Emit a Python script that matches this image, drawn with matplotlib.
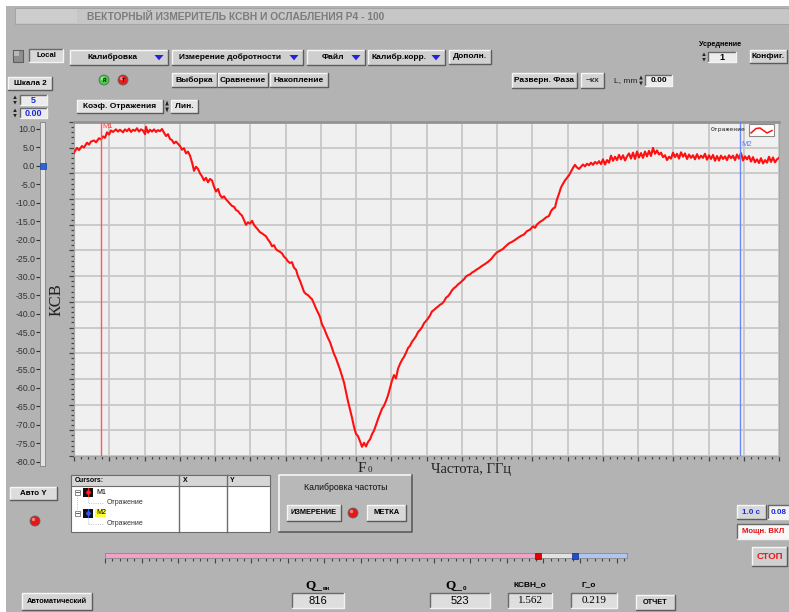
import numpy as np
import matplotlib
matplotlib.use("Agg")
import matplotlib.pyplot as plt
from matplotlib.patches import Rectangle, Circle, Polygon
from matplotlib.ticker import MultipleLocator, FixedLocator, NullFormatter, FormatStrFormatter

# ---------------- data ----------------
freq_idx = [
    0, 3, 5, 8, 10, 13, 15, 17, 20, 22,
    25, 27, 29, 31, 33, 35, 37, 39, 42, 44,
    46, 49, 51, 53, 55, 57, 59, 61, 63, 65,
    67, 69, 71, 72, 74, 76, 78, 80, 82, 84,
    86, 88, 90, 92, 94, 96, 98, 100, 102, 104,
    106, 108, 110, 112, 114, 116, 118, 120, 122, 124,
    126, 128, 130, 132, 134, 136, 138, 140, 142, 144,
    146, 148, 150, 152, 154, 156, 158, 160, 162, 164,
    166, 168, 170, 172, 174, 176, 178, 180, 182, 184,
    186, 188, 190, 192, 194, 196, 198, 200, 202, 204,
    206, 208, 210, 212, 214, 216, 218, 220, 222, 224,
    226, 228, 230, 232, 234, 236, 238, 240, 242, 244,
    246, 248, 250, 252, 254, 256, 258, 260, 262, 264,
    266, 268, 270, 272, 274, 276, 278, 280, 282, 284,
    286, 288, 290, 292, 294, 296, 298, 300, 302, 304,
    306, 308, 310, 312, 314, 316, 318, 320, 322, 324,
    326, 328, 330, 332, 334, 336, 338, 340, 342, 344,
    346, 348, 350, 352, 354, 356, 358, 360, 362, 364,
    366, 368, 370, 372, 374, 376, 378, 380, 382, 384,
    386, 388, 390, 392, 394, 396, 398, 400, 402, 405,
    408, 411, 414, 417, 420, 423, 426, 429, 432, 435,
    438, 441, 444, 447, 450, 453, 456, 459, 461, 463,
    466, 469, 472, 475, 477, 479, 481, 483, 485, 487,
    489, 491, 493, 495, 497, 499, 501, 503, 505, 507,
    509, 511, 513, 515, 517, 519, 521, 523, 525, 527,
    529, 531, 533, 535, 537, 539, 541, 543, 545, 547,
    549, 551, 553, 555, 557, 559, 561, 563, 565, 567,
    569, 571, 573, 575, 577, 579, 581, 583, 585, 587,
    589, 591, 593, 595, 597, 599, 601, 603, 605, 607,
    609, 611, 613, 615, 617, 619, 621, 623, 625, 627,
    629, 631, 633, 635, 637, 639, 641, 643, 645, 647,
    649, 651, 653, 655, 657, 659, 661, 663, 665, 667,
    669, 671, 673, 675, 677, 679, 681, 683, 685, 687,
    689, 691, 693, 695, 697, 699, 701, 703, 705,
]
ksv = [
    3.6, 4.9, 4.3, 5.4, 5.0, 6.3, 5.8, 6.6, 6.9, 6.4,
    7.5, 7.2, 8.0, 7.6, 9.1, 8.5, 9.6, 9.2, 9.9, 9.3,
    9.8, 9.1, 9.9, 9.4, 10.1, 9.2, 9.8, 9.5, 10.2, 9.3,
    9.9, 9.6, 8.6, 10.6, 9.0, 9.8, 9.3, 9.9, 9.2, 9.7,
    9.4, 10.0, 9.0, 8.1, 8.6, 7.3, 7.0, 6.1, 6.6, 6.0,
    5.4, 4.4, 4.8, 3.4, 3.9, 2.8, 1.0, -1.3, -0.2, -0.8,
    -2.0, -2.8, -3.9, -3.2, -4.4, -3.5, -3.9, -5.6, -6.9, -6.2,
    -7.8, -8.6, -8.2, -9.0, -9.6, -10.2, -10.8, -11.0, -11.9, -12.2,
    -12.9, -13.4, -14.6, -15.9, -15.2, -15.6, -14.8, -15.9, -16.6, -17.2,
    -17.9, -18.2, -18.6, -19.0, -19.9, -20.6, -21.7, -21.4, -22.5, -22.9,
    -23.2, -23.6, -24.5, -25.0, -25.8, -26.2, -26.0, -27.5, -28.0, -29.8,
    -31.0, -32.5, -34.0, -34.6, -34.9, -35.5, -36.0, -37.2, -38.5, -39.6,
    -40.8, -42.8, -43.8, -45.2, -46.5, -47.6, -49.2, -50.8, -52.0, -53.5,
    -55.0, -56.8, -58.5, -61.0, -63.6, -65.8, -68.0, -70.5, -72.4, -73.0,
    -74.4, -75.9, -74.8, -75.8, -74.6, -73.9, -72.5, -71.5, -70.0, -68.4,
    -67.0, -65.6, -64.8, -63.5, -62.0, -60.0, -58.0, -56.5, -57.4, -54.8,
    -53.5, -52.4, -51.6, -50.5, -49.2, -48.6, -47.5, -46.8, -46.0, -44.9,
    -44.3, -43.6, -42.5, -41.9, -41.2, -40.4, -39.3, -38.9, -38.4, -38.0,
    -37.5, -37.2, -36.6, -35.6, -35.2, -34.5, -33.6, -33.0, -32.6, -32.0,
    -31.6, -31.1, -30.6, -29.9, -29.5, -29.3, -28.8, -28.5, -28.1, -27.6,
    -27.0, -26.5, -25.9, -25.2, -24.2, -23.3, -22.9, -22.4, -21.6, -20.9,
    -20.5, -20.0, -19.4, -18.9, -18.5, -17.6, -17.2, -16.3, -16.7, -15.8,
    -15.1, -14.6, -13.9, -13.5, -12.2, -11.5, -11.2, -9.0, -7.5, -5.8,
    -4.8, -3.9, -3.2, -2.5, -1.5, -0.5, 0.3, -0.4, -0.8, -0.2,
    0.4, -0.1, 0.6, 0.2, 0.9, 0.3, 1.1, 0.6, 1.3, 0.5,
    1.8, 0.4, 1.6, 0.9, 2.8, 1.4, 2.5, 1.6, 3.0, 1.8,
    2.9, 1.5, 2.6, 3.4, 2.0, 3.6, 1.9, 3.9, 2.3, 3.5,
    2.2, 3.9, 2.6, 4.1, 2.7, 4.9, 3.3, 4.2, 3.1, 3.6,
    2.4, 2.9, 1.6, 2.5, 2.0, 3.6, 2.4, 3.3, 2.0, 3.7,
    2.5, 3.4, 1.9, 3.1, 2.2, 2.9, 1.8, 3.2, 2.0, 2.8,
    2.2, 3.3, 1.7, 2.9, 1.9, 3.0, 1.4, 2.7, 1.5, 2.8,
    1.9, 2.6, 1.6, 2.9, 2.1, 2.8, 1.6, 3.1, 2.0, 3.5,
    1.5, 2.6, 1.8, 2.7, 1.2, 2.4, 1.0, 1.8, 0.8, 2.1,
    0.7, 1.6, 0.9, 2.5, 1.1, 2.3, 1.0, 1.8, 2.2,
]
m1_idx = 27
m2_idx = 666
scale_ticks = [10, 5, 0, -5, -10, -15, -20, -25, -30, -35, -40,
               -45, -50, -55, -60, -65, -70, -75, -80]
scale_value = 0.0
freq_marker_red = 82.9
freq_marker_blue = 90.1
q_vn = "816"
q_0 = "523"
ksvn_0 = "1.562"
gamma_0 = "0.219"
legend_label = "Отражение"
title_text = "ВЕКТОРНЫЙ ИЗМЕРИТЕЛЬ КСВН И ОСЛАБЛЕНИЯ Р4 - 100"

# ---------------- layout helpers ----------------
W, H = 789, 612
BG = '#b3b3b3'
SANS = 'Liberation Sans'
SERIF = 'Liberation Serif'

fig = plt.figure(figsize=(W / 100, H / 100), dpi=100)
fig.patch.set_facecolor(BG)


def add_px_axes(x0, y0, x1, y1):
    return fig.add_axes([x0 / W, 1 - y1 / H, (x1 - x0) / W, (y1 - y0) / H])


ui = add_px_axes(0, 0, W, H)
ui.set_xlim(0, W)
ui.set_ylim(H, 0)
ui.axis('off')
ui.set_zorder(0)


def box(a, x0, y0, x1, y1, fc, ec='none', lw=0.8, z=1):
    a.add_patch(Rectangle((x0, y0), x1 - x0, y1 - y0, facecolor=fc,
                          edgecolor=ec, linewidth=lw, zorder=z))


def bevel(a, x0, y0, x1, y1, fc='#d4d4d4', up=True, lw=1.0, z=1):
    box(a, x0, y0, x1, y1, fc, z=z)
    hi, lo = ('#f6f6f6', '#5c5c5c') if up else ('#6a6a6a', '#f2f2f2')
    a.plot([x0, x0, x1], [y1, y0, y0], color=hi, lw=lw, zorder=z + 0.1)
    a.plot([x0, x1, x1], [y1, y1, y0], color=lo, lw=lw, zorder=z + 0.1)


def label(a, x, y, s, fs=6, color='black', ha='center', va='center',
          weight='bold', family=SANS, z=3, **kw):
    a.text(x, y, s, fontsize=fs, color=color, ha=ha, va=va,
           fontweight=weight, family=family, zorder=z, **kw)


def button(a, x0, y0, x1, y1, s, fs=6, color='black', fc='#d2d2d2'):
    bevel(a, x0, y0, x1, y1, fc=fc, up=True)
    label(a, (x0 + x1) / 2, (y0 + y1) / 2, s, fs=fs, color=color)


def numbox(a, x0, y0, x1, y1, s, fs=6, color='black', fc='#ececec',
           weight='bold', family=SANS):
    bevel(a, x0, y0, x1, y1, fc=fc, up=False)
    label(a, (x0 + x1) / 2, (y0 + y1) / 2 + 0.3, s, fs=fs, color=color,
          weight=weight, family=family)


def spinner(a, x, y0, y1):
    ym = (y0 + y1) / 2
    a.add_patch(Polygon([[x - 1.8, ym - 1], [x + 1.8, ym - 1], [x, y0 + 0.5]],
                        closed=True, fc='#222', ec='none', zorder=3))
    a.add_patch(Polygon([[x - 1.8, ym + 1], [x + 1.8, ym + 1], [x, y1 - 0.5]],
                        closed=True, fc='#222', ec='none', zorder=3))


def ring(a, x0, y0, x1, y1, s, tx):
    bevel(a, x0, y0, x1, y1, fc='#cfcfcf', up=True)
    label(a, tx, (y0 + y1) / 2, s, fs=6)
    xm = x1 - 9
    ym = (y0 + y1) / 2
    a.add_patch(Polygon([[xm - 4.5, ym - 2.5], [xm + 4.5, ym - 2.5], [xm, ym + 2.8]],
                        closed=True, fc='#2222dd', ec='none', zorder=3))


def led(a, x, y, r, fc, s=None):
    a.add_patch(Circle((x, y), r, fc=fc, ec='#666', lw=0.6, zorder=3))
    a.add_patch(Circle((x - r * 0.3, y - r * 0.3), r * 0.35, fc='white',
                       alpha=0.45, ec='none', zorder=3.1))
    if s:
        label(a, x, y, s, fs=3.5, color='black', z=4)


# ---------------- top bar ----------------
box(ui, 0, 0, W, 6, 'white', z=0.5)
box(ui, 0, 0, 6, H, 'white', z=0.5)
box(ui, 15, 8, W, 24, '#c6c6c6', ec='#a4a4a4')
box(ui, 16, 9, 77, 23, '#cdcdcd')
label(ui, 87, 16.5, title_text, fs=7.35, color='#7c7c7c', ha='left')

# ---------------- menu row ----------------
box(ui, 13, 50, 23, 62, '#8e8e8e', ec='#5e5e5e')
box(ui, 14, 51, 19, 56, '#b8b8b8')
bevel(ui, 29, 49, 63, 62, fc='#d8d8d8', up=False)
label(ui, 46, 55.5, "Local", fs=5.5)
ring(ui, 70, 50, 168, 65, "Калибровка", 113)
ring(ui, 172, 50, 303, 65, "Измерение добротности", 230)
ring(ui, 307, 50, 365, 65, "Файл", 333)
ring(ui, 368, 50, 445, 65, "Калибр.корр.", 399)
button(ui, 449, 50, 491, 64, "Дополн.", fs=6)

label(ui, 720, 44, "Усреднение", fs=5.2)
spinner(ui, 704, 52, 62)
numbox(ui, 708, 52, 736, 62, "1", fs=6.5)
button(ui, 750, 50, 787, 63, "Конфиг.", fs=6)

# second row
button(ui, 8, 77, 52, 90, "Шкала 2", fs=5.8, fc='#dcdcdc')
led(ui, 104, 80, 5, '#3fcf3f', "R")
led(ui, 123, 80, 5, '#e81e1e', "T")
button(ui, 172, 73, 217, 87, "Выборка", fs=6)
button(ui, 218, 73, 268, 87, "Сравнение", fs=6)
button(ui, 270, 73, 328, 87, "Накопление", fs=6)
button(ui, 512, 73, 577, 88, "Разверн. Фаза", fs=6)
button(ui, 581, 73, 604, 88, "~кх", fs=6, color='#333333')
label(ui, 626, 80.5, "L, mm", fs=6, weight='normal', color='#222')
spinner(ui, 641, 75, 86)
numbox(ui, 645, 75, 672, 86, "0.00", fs=6)

spinner(ui, 15, 95, 105)
numbox(ui, 20, 95, 47, 105, "5", fs=6.5, color='#1a2ad8')
spinner(ui, 15, 108, 118)
numbox(ui, 20, 108, 47, 118, "0.00", fs=6.5, color='#1a2ad8')

bevel(ui, 77, 100, 163, 113, fc='#e4e4e4', up=True)
label(ui, 120, 106.5, "Коэф. Отражения", fs=6)
spinner(ui, 167, 100, 113)
bevel(ui, 171, 100, 198, 113, fc='#e4e4e4', up=True)
label(ui, 184.5, 106.5, "Лин.", fs=6)

# ---------------- main plot ----------------
px_per_unit = 3.7
y_top = 10 + (129 - 122) / px_per_unit
y_bot = -80 - (456 - 462) / px_per_unit
ax = add_px_axes(74, 122, 779, 456)
ax.set_zorder(2)
ax.set_facecolor('#f0f0f0')
ax.set_xlim(0, 705)
ax.set_ylim(y_bot, y_top)
ax.xaxis.set_major_locator(MultipleLocator(705 / 20))
ax.xaxis.set_minor_locator(MultipleLocator(705 / 100))
ax.yaxis.set_major_locator(FixedLocator(np.linspace(y_bot, y_top, 14)))
ax.yaxis.set_minor_locator(FixedLocator(np.linspace(y_bot, y_top, 66)))
ax.xaxis.set_major_formatter(NullFormatter())
ax.yaxis.set_major_formatter(NullFormatter())
ax.grid(True, which='major', color='#c8c8c8', lw=1.3)
ax.set_axisbelow(True)
ax.tick_params(which='both', direction='out', color='#444444', width=0.9,
               top=False, right=False)
ax.tick_params(which='major', length=3.5)
ax.tick_params(which='minor', length=2.2)
for side in ['left', 'right', 'bottom']:
    ax.spines[side].set_color('#a6a6a6')
    ax.spines[side].set_linewidth(0.8)
ax.spines['top'].set_color('#939393')
ax.spines['top'].set_linewidth(2.0)

ax.plot(freq_idx, ksv, color='#ff1010', lw=1.5, zorder=3)
ax.axvline(m1_idx, color='#ff5a5a', lw=1.0, zorder=4)
ax.axvline(m2_idx, color='#6a86ff', lw=1.0, zorder=4)
ax.text(m1_idx + 1, y_top - 0.4, "M1", color='#ff3a3a', fontsize=5.5,
        family=SANS, va='top', ha='left', zorder=5)
ax.text(m2_idx + 1.5, 6.8, "M2", color='#5a7aff', fontsize=5.5,
        family=SANS, va='top', ha='left', zorder=5)

# overlay for legend
top = add_px_axes(0, 0, W, H)
top.set_xlim(0, W)
top.set_ylim(H, 0)
top.axis('off')
top.set_zorder(5)
top.patch.set_alpha(0)
label(top, 746, 130, legend_label, fs=4.6, weight='normal', ha='right',
      family='DejaVu Sans Mono', color='#222')
box(top, 749, 124, 774, 136, 'white', ec='#8a8a8a', lw=0.8)
top.plot([751, 756, 760, 767, 772], [133, 128.5, 128, 133, 130.5],
         color='#ff1010', lw=1.1, zorder=6)

# axis labels
label(ui, 57, 300, "КСВ", fs=12, weight='normal', family=SERIF, rotation=90,
      color='#222')
label(ui, 362, 468, "F", fs=11, weight='normal', family=SERIF, color='#222')
label(ui, 369.5, 470.5, "0", fs=6.5, weight='normal', family=SERIF, color='#222')
label(ui, 471, 469.5, "Частота, ГГц", fs=10.5, weight='normal', family=SERIF,
      color='#222')

# ---------------- vertical scale slider ----------------
sl = add_px_axes(40, 122, 45, 466)
sl.set_zorder(2)
sl.set_facecolor('#e2e2e2')
sl.set_xlim(0, 1)
sl.set_ylim(-80 - 4 / px_per_unit, 10 + 7 / px_per_unit)
sl.set_yticks(scale_ticks)
sl.yaxis.set_major_formatter(FormatStrFormatter('%.1f'))
sl.set_xticks([])
sl.tick_params(axis='y', direction='out', length=3, width=0.8, pad=0.5,
               labelsize=6.3, colors='#333333')
for sp in sl.spines.values():
    sp.set_color('#8c8c8c')
    sp.set_linewidth(0.7)
sl.plot([0.5], [scale_value], marker='s', ms=4.5, color='#2a66d8',
        mec='#1a3fa0', mew=0.5, clip_on=False, zorder=5)
for lab in sl.get_yticklabels():
    lab.set_family(SANS)

# ---------------- bottom left ----------------
button(ui, 10, 487, 57, 500, "Авто Y", fs=5.8, fc='#dcdcdc')
led(ui, 35, 521, 5, '#e81616')

# cursor table
box(ui, 71, 475, 270, 532, 'white', ec='#6c6c6c', lw=0.8)
box(ui, 71, 475, 270, 486, '#d6d6d6', ec='#6c6c6c', lw=0.8)
ui.plot([179, 179], [475, 532], color='#6c6c6c', lw=1.0, zorder=2)
ui.plot([227, 227], [475, 532], color='#6c6c6c', lw=1.0, zorder=2)
label(ui, 75, 480.5, "Cursors:", fs=5, ha='left')
label(ui, 183, 480.5, "X", fs=5, ha='left')
label(ui, 230, 480.5, "Y", fs=5, ha='left')
for row_y, name, col, hl in [(492, "M1", '#ff2020', None), (513, "M2", '#3050ff', '#ffff30')]:
    box(ui, 75, row_y - 2.5, 80, row_y + 2.5, 'white', ec='#777', lw=0.6, z=2)
    ui.plot([76, 79], [row_y, row_y], color='#444', lw=0.6, zorder=3)
    box(ui, 83, row_y - 4.5, 93, row_y + 4.5, '#111111', z=2)
    ui.plot([88, 88], [row_y - 4, row_y + 4], color=col, lw=0.8, zorder=3)
    ui.plot([88], [row_y], marker='D', ms=2, color=col, zorder=3)
    if hl:
        box(ui, 95, row_y - 4, 106, row_y + 4, hl, z=2)
    label(ui, 96, row_y, name, fs=5, weight='normal', ha='left')
    ui.plot([88, 88, 104], [row_y + 5, row_y + 10.5, row_y + 10.5],
            color='#aaaaaa', lw=0.6, ls=':', zorder=2)
    label(ui, 107, row_y + 10.5, "Отражение", fs=5, weight='normal', ha='left',
          color='#333')
ui.plot([77.5, 77.5], [494.5, 510.5], color='#aaaaaa', lw=0.6, ls=':', zorder=2)

# frequency calibration panel
bevel(ui, 279, 475, 412, 532, fc='#b8b8b8', up=True, lw=1.2)
label(ui, 346, 488, "Калибровка частоты", fs=6.3, weight='normal', color='#111')
button(ui, 287, 505, 341, 521, "ИЗМЕРЕНИЕ", fs=5.3, fc='#d8d8d8')
led(ui, 353, 513, 5, '#e81616')
button(ui, 367, 505, 406, 521, "МЕТКА", fs=5.5, fc='#d8d8d8')

# horizontal frequency slider
fs_ax = add_px_axes(105, 553, 627, 558)
fs_ax.set_zorder(2)
fs_ax.set_xlim(0, 100)
fs_ax.set_ylim(0, 1)
fs_ax.axvspan(0, freq_marker_red, color='#f2a2c8', lw=0)
fs_ax.axvspan(freq_marker_red, freq_marker_blue, color='#e2e2e2', lw=0)
fs_ax.axvspan(freq_marker_blue, 100, color='#b0c6f2', lw=0)
fs_ax.plot([freq_marker_red], [0.5], marker='s', ms=4.5, color='#e00000',
           mec='#900000', mew=0.5, clip_on=False, zorder=5)
fs_ax.plot([freq_marker_blue], [0.5], marker='s', ms=4.2, color='#2050c8',
           mec='#102a80', mew=0.5, clip_on=False, zorder=5)
fs_ax.xaxis.set_major_locator(MultipleLocator(7))
fs_ax.xaxis.set_minor_locator(MultipleLocator(1.4))
fs_ax.xaxis.set_major_formatter(NullFormatter())
fs_ax.set_yticks([])
fs_ax.tick_params(axis='x', which='both', direction='out', color='#444', width=0.8)
fs_ax.tick_params(axis='x', which='major', length=3.5, pad=0)
fs_ax.tick_params(axis='x', which='minor', length=2)
for sp in fs_ax.spines.values():
    sp.set_color('#8a8a8a')
    sp.set_linewidth(0.6)

# right side controls
button(ui, 737, 505, 766, 519, "1.0 с", fs=5.8, color='#1a2ad8', fc='#d8d8d8')
numbox(ui, 768, 505, 790, 519, "0.08", fs=5.8, color='#1a2ad8', fc='#f4f4f4')
bevel(ui, 737, 524, 790, 539, fc='#f8f8f8', up=False)
label(ui, 763, 531.5, "Мощн. ВКЛ", fs=5.6, color='#e01010')
button(ui, 752, 547, 787, 566, "СТОП", fs=6.8, color='#ee1515', fc='#d0d0d0')

# bottom row
button(ui, 22, 593, 92, 610, "Автоматический", fs=5.3, fc='#d4d4d4')
label(ui, 322, 585.5, "Q_", fs=9.5, ha='right', family=SERIF)
label(ui, 322.8, 588.5, "вн", fs=4.2, ha='left')
numbox(ui, 292, 593, 344, 608, q_vn, fs=8, weight='normal', fc='#dedede')
label(ui, 462, 585.5, "Q_", fs=9.5, ha='right', family=SERIF)
label(ui, 462.8, 588.5, "0", fs=4.5, ha='left')
numbox(ui, 430, 593, 490, 608, q_0, fs=8, weight='normal', fc='#dedede')
label(ui, 530, 585, "КСВН_о", fs=6)
numbox(ui, 508, 593, 552, 608, ksvn_0, fs=8, weight='normal', fc='#dedede',
       family=SERIF)
label(ui, 589, 585, "Г_о", fs=6)
numbox(ui, 571, 593, 617, 608, gamma_0, fs=8, weight='normal', fc='#dedede',
       family=SERIF)
button(ui, 636, 595, 675, 610, "ОТЧЕТ", fs=5.3, fc='#d4d4d4')

fig.savefig("out.png", dpi=100, facecolor=fig.get_facecolor())
